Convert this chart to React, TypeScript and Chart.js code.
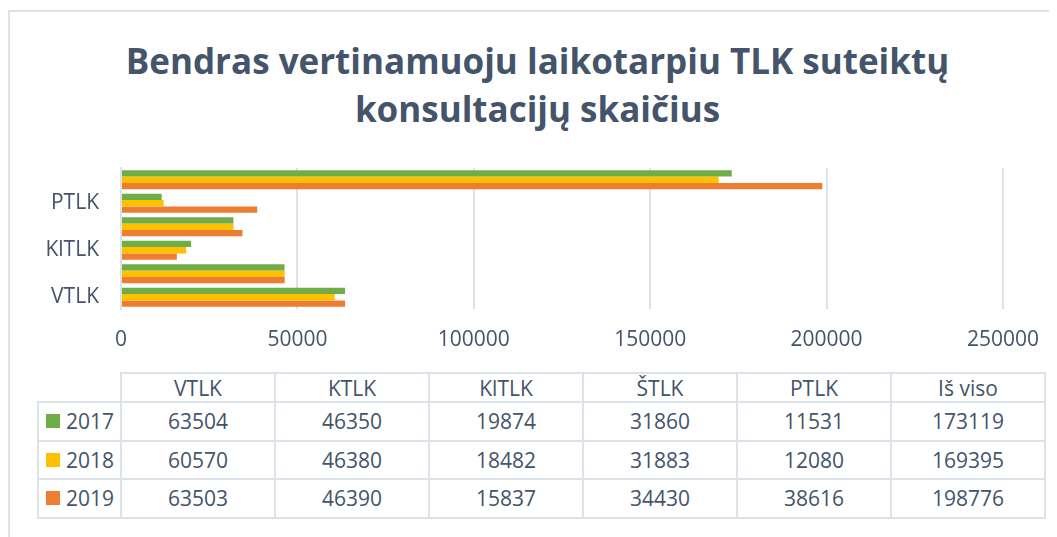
import React, { useEffect, useRef } from "react";
import { Chart, registerables } from "chart.js";

Chart.register(...registerables);

const titleLines = ["Bendras vertinamuoju laikotarpiu TLK suteiktų", "konsultacijų skaičius"];
const categories = ["VTLK", "KTLK", "KlTLK", "ŠTLK", "PTLK", "Iš viso"];
const seriesNames = ["2017", "2018", "2019"];
const values2017 = [63504, 46350, 19874, 31860, 11531, 173119];
const values2018 = [60570, 46380, 18482, 31883, 12080, 169395];
const values2019 = [63503, 46390, 15837, 34430, 38616, 198776];
const seriesColors = ["#70AD47", "#FFC000", "#ED7D31"];
const xMin = 0;
const xMax = 250000;
const xStep = 50000;

const TEXT = "#44546A";
const GRID = "#DDE1E8";
const FONT = "'Open Sans', 'Noto Sans', sans-serif";

const seriesValues = [values2017, values2018, values2019];

// table geometry (container coords)
const tblLeft = 30;
const tblTop = 365;
const legendW = 83;
const colW = 154;
const headH = 29;
const rowH = 38.5;

export default function App() {
  const ref = useRef<HTMLCanvasElement | null>(null);

  useEffect(() => {
    if (!ref.current) return;
    const chart = new Chart(ref.current, {
      type: "bar",
      data: {
        labels: categories,
        datasets: seriesNames.map((name, i) => ({
          label: name,
          data: seriesValues[i],
          backgroundColor: seriesColors[i],
          borderWidth: 0,
          categoryPercentage: 0.81,
          barPercentage: 1,
        })),
      },
      options: {
        indexAxis: "y",
        responsive: false,
        animation: false,
        devicePixelRatio: 1,
        layout: { padding: { left: 0, right: 54, top: 160, bottom: 0 } },
        plugins: {
          legend: { display: false },
          title: { display: false },
          tooltip: { enabled: false },
        },
        scales: {
          x: {
            type: "linear",
            min: xMin,
            max: xMax,
            ticks: {
              stepSize: xStep,
              color: TEXT,
              font: { family: FONT, size: 21 },
              padding: 18,
              maxRotation: 0,
              callback: (v: any) => String(v),
            },
            grid: { color: GRID, lineWidth: 2, drawTicks: false },
            border: { display: false },
            afterFit: (s: any) => {
              s.height = 51;
            },
          },
          y: {
            reverse: true,
            grid: { display: false, drawTicks: false },
            border: { display: true, color: GRID, width: 2 },
            ticks: {
              autoSkip: false,
              color: TEXT,
              font: { family: FONT, size: 21 },
              padding: 22,
              callback: (_v: any, i: number) => (i % 2 === 0 ? categories[i] : ""),
            },
            afterFit: (s: any) => {
              s.width = 113;
            },
          },
        },
      },
    });
    return () => chart.destroy();
  }, []);

  const lines: React.ReactNode[] = [];
  const tableRight = tblLeft + legendW + colW * categories.length;
  const dataLeft = tblLeft + legendW;
  const rowTops = [tblTop + headH, tblTop + headH + rowH, tblTop + headH + 2 * rowH, tblTop + headH + 3 * rowH];
  lines.push(<div key="h0" style={{ position: "absolute", left: dataLeft, top: tblTop - 1, width: tableRight - dataLeft, height: 2, background: GRID }} />);
  rowTops.forEach((y, i) =>
    lines.push(<div key={"h" + (i + 1)} style={{ position: "absolute", left: tblLeft, top: y - 1, width: tableRight - tblLeft, height: 2, background: GRID }} />)
  );
  const bottom = rowTops[3];
  lines.push(<div key="v0" style={{ position: "absolute", left: tblLeft - 1, top: rowTops[0] - 1, width: 2, height: bottom - rowTops[0] + 2, background: GRID }} />);
  for (let c = 0; c <= categories.length; c++) {
    lines.push(<div key={"v" + (c + 1)} style={{ position: "absolute", left: dataLeft + c * colW - 1, top: tblTop - 1, width: 2, height: bottom - tblTop + 2, background: GRID }} />);
  }

  const cellStyle = (left: number, top: number, w: number, h: number): React.CSSProperties => ({
    position: "absolute",
    left,
    top,
    width: w,
    height: h,
    display: "flex",
    alignItems: "center",
    justifyContent: "center",
    fontFamily: FONT,
    fontSize: 21,
    color: TEXT,
    whiteSpace: "nowrap",
  });

  return (
    <div style={{ position: "relative", width: 1049, height: 529, overflow: "hidden", background: "#fff" }}>
      <div style={{ position: "absolute", left: 0, top: 2, width: 1049, height: 2, background: GRID }} />
      <div style={{ position: "absolute", left: 0, top: 2, width: 2, height: 527, background: GRID }} />
      <div
        style={{
          position: "absolute",
          left: 10,
          top: 29,
          width: 1039,
          textAlign: "center",
          fontFamily: FONT,
          fontWeight: 700,
          fontSize: 35,
          lineHeight: "48px",
          color: TEXT,
        }}
      >
        {titleLines.map((t) => (
          <div key={t}>{t}</div>
        ))}
      </div>
      <canvas ref={ref} width={1049} height={352} style={{ position: "absolute", left: 0, top: 0, display: "block" }} />
      {lines}
      {categories.map((c, i) => (
        <div key={"hd" + c} style={cellStyle(dataLeft + i * colW, tblTop, colW, headH)}>
          {c}
        </div>
      ))}
      {seriesNames.map((s, r) => (
        <React.Fragment key={"r" + s}>
          <div style={{ ...cellStyle(tblLeft, rowTops[r], legendW, rowH), justifyContent: "flex-start", paddingLeft: 8, boxSizing: "border-box" }}>
            <span style={{ display: "inline-block", width: 14, height: 14, background: seriesColors[r], marginRight: 6 }} />
            {s}
          </div>
          {seriesValues[r].map((v, c) => (
            <div key={"c" + r + c} style={cellStyle(dataLeft + c * colW, rowTops[r], colW, rowH)}>
              {String(v)}
            </div>
          ))}
        </React.Fragment>
      ))}
    </div>
  );
}
